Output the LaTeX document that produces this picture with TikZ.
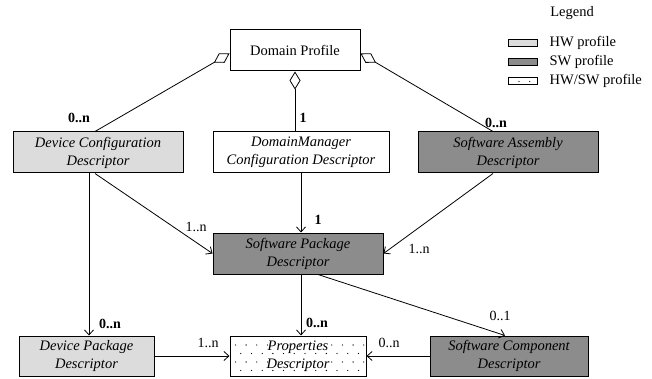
\documentclass[tikz,border=0pt]{standalone}
\usepackage{fontspec}
\setmainfont{Liberation Serif}
\usepackage{tikz}
\usetikzlibrary{arrows.meta}
\usetikzlibrary{patterns}
\usetikzlibrary{positioning}

\definecolor{hwgray}{HTML}{DCDCDC}
\definecolor{swgray}{HTML}{8C8C8C}

% sparse dots, rows offset
\pgfdeclarepatternformonly{sparsedots}{\pgfqpoint{-1pt}{-1pt}}{\pgfqpoint{7pt}{10pt}}{\pgfqpoint{10.7pt}{17pt}}{
  \pgfpathcircle{\pgfqpoint{0pt}{0pt}}{0.65pt}
  \pgfpathcircle{\pgfqpoint{5.35pt}{8.5pt}}{0.65pt}
  \pgfusepath{fill}
}

\tikzset{
  desc/.style={draw, line width=1pt, minimum height=41pt, align=center, inner sep=2pt,
    font=\fontsize{14.5}{18}\selectfont\itshape},
  hwdesc/.style={desc, fill=hwgray},
  swdesc/.style={desc, fill=swgray},
  mixdesc/.style={desc, preaction={fill=white}, pattern=sparsedots},
  mult/.style={font=\fontsize{14}{16}\selectfont, inner sep=1pt},
  bmult/.style={mult, font=\fontsize{14}{16}\selectfont\bfseries},
  link/.style={line width=0.8pt, arrows={-Straight Barb[length=5pt,width=9pt]}},
  aggr/.style={line width=0.8pt, arrows={Diamond[open,length=18pt,width=11pt]-}},
  swatch/.style={draw, line width=0.8pt, minimum width=29pt, minimum height=7pt, inner sep=0pt},
  legtext/.style={font=\fontsize{14.5}{16}\selectfont, inner sep=0pt},
}

\begin{document}
\begin{tikzpicture}[x=1pt, y=-1pt]
    \useasboundingbox (0,0) rectangle (652,379);
    % descriptors
    \node[desc, font=\fontsize{14.5}{18}\selectfont, minimum width=130pt] (dp) at (295,50.5) {Domain Profile};
    \node[hwdesc, minimum width=170pt] (dcd) at (98,152.5) {Device Configuration\\Descriptor};
    \node[desc, minimum width=176pt] (dmcd) at (301,152.5) {DomainManager\\Configuration Descriptor};
    \node[swdesc, minimum width=180pt] (sad) at (508,152.5) {Software Assembly\\Descriptor};
    \node[swdesc, minimum width=170pt] (spd) at (298,253.5) {Software Package\\Descriptor};
    \node[hwdesc, minimum width=135pt, minimum height=40pt] (dpd) at (86.5,356) {Device Package\\Descriptor};
    \node[mixdesc, minimum width=136pt, minimum height=40pt] (pd) at (298,356) {Properties\\Descriptor};
    \node[swdesc, minimum width=158pt, minimum height=40pt] (scd) at (509,356) {Software Component\\Descriptor};

    % aggregations
    \draw[aggr] ([yshift=-3pt]dp.west) -- ([xshift=-3pt]dcd.north);
    \draw[aggr] (dp.south) -- (dp.south |- dmcd.north);
    \draw[aggr] ([yshift=-3pt]dp.east) -- ([xshift=-15pt]sad.north);

    % associations
    \draw[link] ([xshift=-9pt]dcd.south) -- ([xshift=-9pt]dcd.south |- dpd.north);
    \draw[link] ([xshift=-3pt]dcd.south) -- (spd.west);
    \draw[link] (dmcd.south) -- (dmcd.south |- spd.north);
    \draw[link] ([xshift=-15pt]sad.south) -- (spd.east);
    \draw[link] ([xshift=3pt]spd.south) -- ([xshift=3pt]spd.south |- pd.north);
    \draw[link] ([xshift=20pt]spd.south) -- ([xshift=-4pt]scd.north);
    \draw[link] (dpd.east) -- (pd.west);
    \draw[link] (scd.west) -- (pd.east);

    % multiplicities
    \node[bmult] (n1) at (79,118) {0..n};
    \node[bmult] (n2) at (303,118) {1};
    \node[bmult] (n3) at (496,123) {0..n};
    \node[bmult] (n4) at (110,324) {0..n};
    \node[mult] (n5) at (196,227) {1..n};
    \node[bmult] (n6) at (318,220) {1};
    \node[mult] (n7) at (419,249) {1..n};
    \node[bmult] (n8) at (317,323) {0..n};
    \node[mult] (n9) at (500,316) {0..1};
    \node[mult] (n10) at (208,343) {1..n};
    \node[mult] (n11) at (389,343) {0..n};

    % legend
    \node[legtext] (lgTitle) at (572,13) {Legend};
    \node[swatch, fill=hwgray] (lgHW) at (522.5,42.5) {};
    \node[swatch, fill=swgray] (lgSW) at (522.5,62) {};
    \node[swatch, preaction={fill=white}, pattern=sparsedots] (lgMix) at (522.5,80.5) {};
    \node[legtext, right=12pt of lgHW] (lgHWt) {HW profile};
    \node[legtext, right=12pt of lgSW] (lgSWt) {SW profile};
    \node[legtext, right=12pt of lgMix] (lgMixt) {HW/SW profile};
\end{tikzpicture}
\end{document}
